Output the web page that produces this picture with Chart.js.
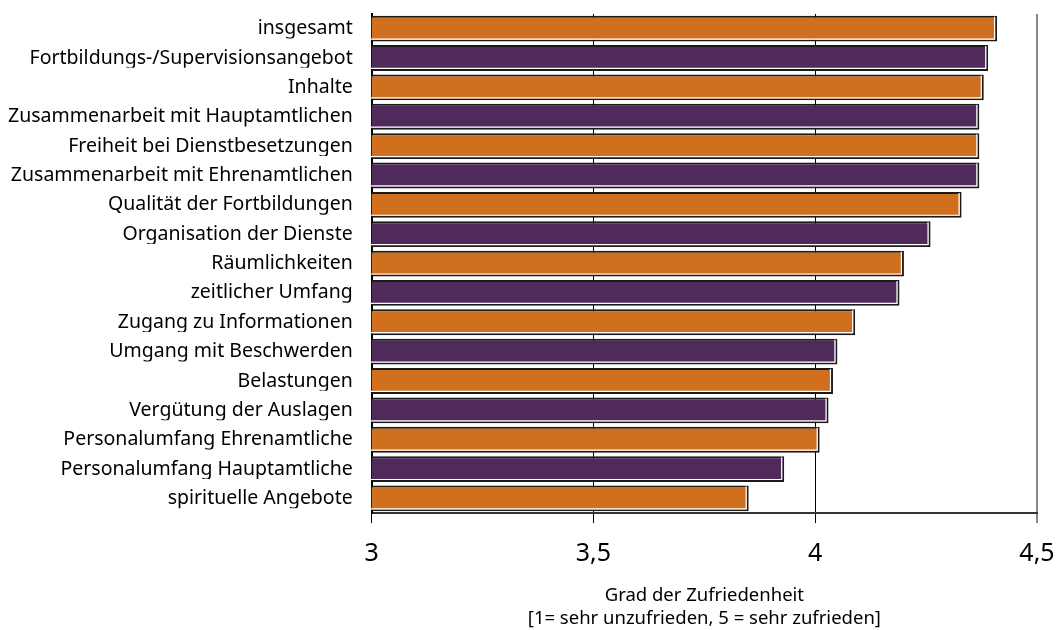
<!DOCTYPE html>
<html>
<head>
<meta charset="utf-8">
<script src="https://cdn.jsdelivr.net/npm/chart.js@4/dist/chart.umd.min.js"></script>
<style>
  html, body { margin: 0; padding: 0; background: #fff; }
  #wrap { width: 1057px; height: 630px; }
</style>
</head>
<body>
<div id="wrap"><canvas id="c" width="1057" height="630"></canvas></div>
<script>
const categories = [
  "insgesamt",
  "Fortbildungs-/Supervisionsangebot",
  "Inhalte",
  "Zusammenarbeit mit Hauptamtlichen",
  "Freiheit bei Dienstbesetzungen",
  "Zusammenarbeit mit Ehrenamtlichen",
  "Qualität der Fortbildungen",
  "Organisation der Dienste",
  "Räumlichkeiten",
  "zeitlicher Umfang",
  "Zugang zu Informationen",
  "Umgang mit Beschwerden",
  "Belastungen",
  "Vergütung der Auslagen",
  "Personalumfang Ehrenamtliche",
  "Personalumfang Hauptamtliche",
  "spirituelle Angebote"
];
const values = [4.41, 4.39, 4.38, 4.37, 4.37, 4.37, 4.33, 4.26, 4.20, 4.19, 4.09, 4.05, 4.04, 4.03, 4.01, 3.93, 3.85];
const xTicks = [3, 3.5, 4, 4.5];
const xTitle = ["Grad der Zufriedenheit", "[1= sehr unzufrieden, 5 = sehr zufrieden]"];

const ORANGE = "#D0701E";
const PURPLE = "#4F2A5B";
const barColors = categories.map((_, i) => i % 2 === 0 ? ORANGE : PURPLE);

const innerLine = {
  id: "innerLine",
  afterDatasetsDraw(chart) {
    const ctx = chart.ctx;
    const meta = chart.getDatasetMeta(0);
    ctx.save();
    ctx.strokeStyle = "#ffffff";
    ctx.lineWidth = 1.2;
    meta.data.forEach(bar => {
      const p = bar.getProps(["x", "y", "base", "height"], true);
      const top = p.y - p.height / 2 + 1;
      const bottom = p.y + p.height / 2 - 2.5;
      const right = p.x - 2.5;
      const left = p.base + 1;
      ctx.beginPath();
      ctx.moveTo(left, bottom);
      ctx.lineTo(right, bottom);
      ctx.lineTo(right, top);
      ctx.stroke();
    });
    ctx.restore();
  }
};

new Chart(document.getElementById("c"), {
  type: "bar",
  data: {
    labels: categories,
    datasets: [{
      data: values,
      backgroundColor: barColors,
      borderColor: "#1a1a1a",
      borderWidth: 2,
      borderSkipped: false,
      barPercentage: 0.88,
      categoryPercentage: 1.0
    }]
  },
  options: {
    responsive: false,
    animation: false,
    indexAxis: "y",
    layout: { padding: { top: 14, right: 20, left: -11, bottom: 1 } },
    plugins: { legend: { display: false }, tooltip: { enabled: false } },
    scales: {
      x: {
        min: 3, max: 4.5,
        afterBuildTicks(axis) { axis.ticks = xTicks.map(v => ({ value: v })); },
        afterFit(scale) { scale.paddingLeft = 0; scale.paddingRight = 0; },
        grid: {
          drawOnChartArea: true,
          drawTicks: true,
          tickLength: 10,
          color: ctx => (ctx.tick && ctx.tick.value === 4.5) ? "#888888" : "#000000",
          lineWidth: ctx => (ctx.tick && ctx.tick.value === 4.5) ? 2 : 1
        },
        border: { display: true, color: "#333333", width: 2 },
        ticks: {
          color: "#000",
          font: { family: "Noto Sans", size: 25, lineHeight: 1.0 },
          padding: 18.5,
          maxRotation: 0,
          callback: v => String(v).replace(".", ",")
        },
        title: {
          display: true,
          text: xTitle,
          color: "#000",
          font: { family: "Noto Sans", size: 18.5, lineHeight: 1.24 },
          padding: { top: -1, bottom: -1 }
        }
      },
      y: {
        afterFit(scale) { scale.paddingTop = 0; scale.paddingBottom = 0; },
        grid: { display: false, drawTicks: false },
        border: { display: true, color: "#000", width: 2 },
        ticks: {
          color: "#000",
          font: { family: "Noto Sans", size: 19.5 },
          padding: 19,
          autoSkip: false
        }
      }
    }
  },
  plugins: [innerLine]
});
</script>
</body>
</html>
